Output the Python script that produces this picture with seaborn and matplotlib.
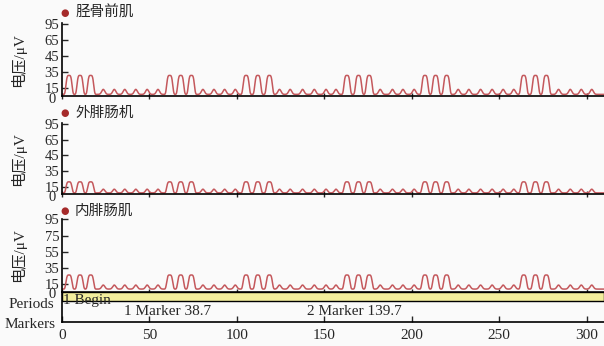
import numpy as np
import pandas as pd
import matplotlib
matplotlib.use('Agg')
import matplotlib.pyplot as plt
import seaborn as sns

# Muscle channels (title text as in the source)
muscles = ['胫骨前肌', '外腓肠机', '内腓肠肌']

# burst peak centres (s) and small bump centres (s)
burst_x = [4.0, 10.3, 16.4, 61.6, 67.9, 74.0, 105.3, 112.0, 118.6,
           163.0, 169.6, 175.7, 207.6, 213.7, 220.0, 264.1, 270.8, 277.0]
bump_x = [23.6, 29.9, 35.9, 42.2, 48.7, 54.9, 80.6, 86.9, 93.0, 99.1,
          124.4, 130.5, 137.6, 144.3, 151.0, 156.7, 182.0, 189.0, 195.0, 201.4,
          226.6, 232.7, 239.4, 246.0, 252.3, 258.4, 284.0, 290.7, 297.0, 303.0]

# per channel: baseline, burst peak, small bump peak (uV, axis units)
baseline = [7.5, 7.5, 8.5]
burst_peak = [31.0, 21.5, 26.0]
bump_peak = [13.7, 12.2, 13.5]

ytick_vals = [15, 35, 55, 75, 95]
ytick_labels = [['15', '35', '45', '65', '95'],
                ['15', '35', '45', '65', '95'],
                ['15', '35', '55', '75', '95']]

markers_t = [38.7, 139.7]
marker_labels = ['1 Marker 38.7', '2 Marker 139.7']
xticks = [0, 50, 100, 150, 200, 250, 300]

sns.set_theme(style='ticks')
plt.rcParams['font.family'] = ['Liberation Serif', 'Noto Sans CJK SC']
plt.rcParams['axes.unicode_minus'] = False

W, H = 604, 346
fig = plt.figure(figsize=(W / 100, H / 100), dpi=100)
fig.patch.set_facecolor('#fafafa')

line_color = '#c4585c'
t = np.linspace(0, 310, 4000)


def px_axes(left, top, right, bottom):
    return fig.add_axes([left / W, 1 - bottom / H, (right - left) / W, (bottom - top) / H])


panel_px = [(23.3, 96.0), (123.3, 194.5), (219.0, 291.5)]
title_y = [13, 113, 211]

for i, (top, bot) in enumerate(panel_px):
    ax = px_axes(62, top, 604, bot)
    ax.set_facecolor('#fafafa')
    y = np.full_like(t, baseline[i])
    for c in burst_x:
        y += (burst_peak[i] - baseline[i]) * np.exp(-((t - c) / 1.9) ** 4)
    for c in bump_x:
        y += (bump_peak[i] - baseline[i]) * np.exp(-((t - c) / 1.25) ** 2)
    df = pd.DataFrame({'t': t, 'v': y})
    sns.lineplot(data=df, x='t', y='v', ax=ax, color=line_color, linewidth=1.1)
    ax.set_xlim(0, 310)
    ax.set_ylim(5.5, 95.5)
    ax.set_yticks(ytick_vals)
    ax.set_yticklabels(ytick_labels[i], fontsize=10.5)
    ax.set_xticks(xticks)
    ax.tick_params(axis='x', direction='inout', length=4, width=1, labelbottom=False)
    ax.tick_params(axis='y', direction='in', length=4, width=1, pad=2)
    ax.set_xlabel('')
    ax.set_ylabel('')
    for s in ['top', 'right']:
        ax.spines[s].set_visible(False)
    for s in ['left', 'bottom']:
        ax.spines[s].set_color('black')
        ax.spines[s].set_linewidth(1.2)
    # bottom "0" label sits just under the axis
    fig.text(56 / W, 1 - (bot + 3) / H, '0', ha='right', va='center', fontsize=10.5)
    fig.text(18 / W, 1 - (top + bot) / 2 / H, '电压/μV', rotation=90,
             ha='center', va='center', fontsize=11)
    fig.text(65 / W, 1 - title_y[i] / H, '●', color='#a52a2a', fontsize=7,
             ha='center', va='center', family=['DejaVu Sans'])
    fig.text(75 / W, 1 - title_y[i] / H, muscles[i], ha='left', va='center',
             fontsize=10.5)

# periods / markers track
axm = px_axes(62, 291.5, 604, 322)
axm.set_facecolor('#fafafa')
axm.set_xlim(0, 310)
axm.set_ylim(0, 1)
axm.axhspan(0.69, 1.0, facecolor='#f3ee9c', edgecolor='black', linewidth=1.0)
axm.text(0.5, 0.72, '1 Begin', ha='left', va='center', fontsize=11)
axm.text(markers_t[0] - 3.3, 0.36, marker_labels[0], ha='left', va='center', fontsize=11)
axm.text(markers_t[1] + 0.6, 0.36, marker_labels[1], ha='left', va='center', fontsize=11)
axm.set_yticks([])
axm.set_xticks(xticks)
axm.set_xticklabels([str(v) for v in xticks], fontsize=11)
axm.tick_params(axis='x', direction='in', length=4, width=1, pad=5)
for s in ['top', 'right']:
    axm.spines[s].set_visible(False)
for s in ['left', 'bottom']:
    axm.spines[s].set_color('black')
    axm.spines[s].set_linewidth(1.2)

fig.text(54 / W, 1 - 305 / H, 'Periods', ha='right', va='center', fontsize=11)
fig.text(56 / W, 1 - 324 / H, 'Markers', ha='right', va='center', fontsize=11)

fig.savefig('out.png', dpi=100, facecolor=fig.get_facecolor())
